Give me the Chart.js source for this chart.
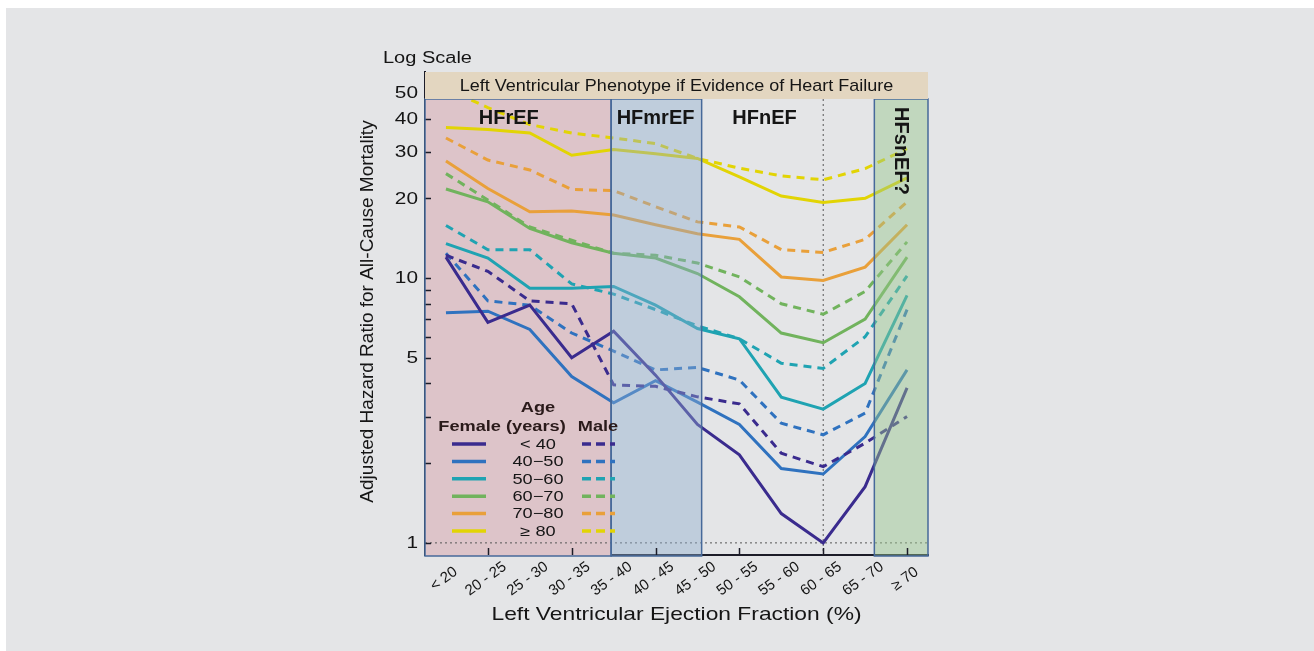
<!DOCTYPE html>
<html>
<head>
<meta charset="utf-8">
<title>Adjusted hazard ratio by LVEF</title>
<script src="https://cdn.jsdelivr.net/npm/chart.js@4.4.1/dist/chart.umd.min.js"></script>
<style>
  html, body { margin: 0; padding: 0; background: #ffffff; }
  .frame { position: absolute; left: 6px; top: 8px; width: 1308px; height: 643px; background: #e4e5e7; }
  .wrap { position: absolute; left: 0; top: 0; width: 1314px; height: 651px; }
</style>
</head>
<body>
<div class="frame"></div>
<div class="wrap"><canvas id="hr-chart" width="1314" height="651"></canvas></div>
<script>
// LVEF bands on the x axis
const efBands = ['< 20', '20 - 25', '25 - 30', '30 - 35', '35 - 40', '40 - 45',
  '45 - 50', '50 - 55', '55 - 60', '60 - 65', '65 - 70', '≥ 70'];

// age groups (legend rows)
const ageGroups = ['< 40', '40\u221250', '50\u221260', '60\u221270', '70\u221280', '≥ 80'];
const ageColors = ['#3a2b8e', '#2f72bf', '#1fa3b2', '#71b35d', '#e9a03a', '#e2d404'];

// adjusted hazard ratios, female (solid)
const femaleUnder40 = [12.0, 6.8, 7.9, 5.0, 6.3, 4.3, 2.8, 2.15, 1.29, 1.0, 1.63, 3.85];
const female40to50 = [7.4, 7.5, 6.4, 4.25, 3.38, 4.1, 3.4, 2.8, 1.91, 1.82, 2.52, 4.5];
const female50to60 = [13.5, 11.9, 9.15, 9.15, 9.3, 7.9, 6.45, 5.9, 3.55, 3.2, 4.0, 8.6];
const female60to70 = [21.7, 19.4, 15.4, 13.6, 12.4, 11.9, 10.4, 8.5, 6.2, 5.7, 7.0, 12.0];
const female70to80 = [27.7, 21.8, 17.8, 17.9, 17.3, 15.9, 14.7, 14.0, 10.1, 9.8, 11.0, 15.9];
const femaleOver80 = [37.0, 36.4, 35.3, 29.1, 30.6, 29.5, 28.3, 24.1, 20.4, 19.3, 20.0, 23.9];

// adjusted hazard ratios, male (dashed)
const maleUnder40 = [12.2, 10.6, 8.2, 8.0, 3.95, 3.9, 3.56, 3.35, 2.18, 1.94, 2.38, 3.0];
const male40to50 = [12.4, 8.2, 7.9, 6.2, 5.3, 4.5, 4.6, 4.12, 2.83, 2.56, 3.09, 7.6];
const male50to60 = [15.8, 12.8, 12.8, 9.5, 8.7, 7.6, 6.6, 5.9, 4.77, 4.56, 6.0, 10.2];
const male60to70 = [24.8, 19.7, 15.6, 13.9, 12.4, 12.2, 11.4, 10.1, 8.0, 7.3, 8.9, 13.7];
const male70to80 = [33.8, 27.9, 25.6, 21.6, 21.4, 18.6, 16.3, 15.6, 12.8, 12.5, 14.0, 19.4];
const maleOver80 = [52, 44, 38, 35.3, 33.8, 32.2, 28.3, 26.0, 24.3, 23.5, 25.9, 30.8];

const femaleSeries = [femaleUnder40, female40to50, female50to60, female60to70, female70to80, femaleOver80];
const maleSeries = [maleUnder40, male40to50, male50to60, male60to70, male70to80, maleOver80];

// log axis ticks
const yTickValues = [1, 2, 3, 4, 5, 6, 7, 8, 9, 10, 20, 30, 40, 50];
const yTickLabels = ['1', '', '', '', '5', '', '', '', '', '10', '20', '30', '40', '50'];

// phenotype boxes, in category units
const phenotypes = [
  { name: 'HFrEF', from: -0.5, to: 3.94, labelAt: 1.5, fill: '#ddc4c9', overlay: false },
  { name: 'HFmrEF', from: 3.94, to: 6.1, labelAt: 5, fill: 'rgba(140,172,206,0.42)', overlay: true },
  { name: 'HFnEF', from: 6.1, to: 9, labelAt: 7.6, fill: null, overlay: false },
  { name: 'HFsnEF?', from: 10.22, to: 11.5, labelAt: 10.85, fill: 'rgba(150,198,140,0.45)', overlay: true, vertical: true }
];
const normalEfIndex = 9;

const FONT = "'Liberation Sans', Arial, sans-serif";
const INK = '#151515';
const BOX_LINE = '#46699a';
const BANNER_H = 27;
const SX = 1.3; // the plot's own lettering is drawn wide

const datasets = [];
ageGroups.forEach((age, i) => {
  datasets.push({
    label: 'Male ' + age,
    data: maleSeries[i],
    borderColor: ageColors[i],
    borderWidth: 3,
    borderDash: [8, 6],
    pointRadius: 0,
    tension: 0,
    fill: false
  });
  datasets.push({
    label: 'Female ' + age,
    data: femaleSeries[i],
    borderColor: ageColors[i],
    borderWidth: 3,
    pointRadius: 0,
    tension: 0,
    fill: false
  });
});

function xAt(scale, pos) {
  const a = scale.getPixelForValue(0);
  const b = scale.getPixelForValue(1);
  return a + (b - a) * pos;
}

// text with optional horizontal stretch and rotation
function label(ctx, text, x, y, opts) {
  ctx.save();
  ctx.translate(x, y);
  ctx.scale(opts.sx || 1, 1);
  if (opts.angle) ctx.rotate(opts.angle);
  ctx.font = opts.font;
  ctx.textAlign = opts.align || 'center';
  ctx.textBaseline = opts.baseline || 'middle';
  ctx.fillStyle = opts.color || INK;
  ctx.fillText(text, 0, 0);
  ctx.restore();
}

function fillBoxes(chart, overlay) {
  const { ctx, chartArea, scales } = chart;
  const top = chartArea.top + BANNER_H;
  ctx.save();
  phenotypes.forEach(p => {
    if (!p.fill || p.overlay !== overlay) return;
    const x1 = xAt(scales.x, p.from);
    const x2 = xAt(scales.x, p.to);
    ctx.fillStyle = p.fill;
    ctx.fillRect(x1, top, x2 - x1, chartArea.bottom + 1 - top);
  });
  ctx.restore();
}

// pink box and dotted reference lines under the data
const underlayPlugin = {
  id: 'underlay',
  beforeDatasetsDraw(chart) {
    const { ctx, chartArea, scales } = chart;
    fillBoxes(chart, false);
    ctx.save();
    ctx.strokeStyle = '#555';
    ctx.lineWidth = 1;
    ctx.setLineDash([2, 3]);
    const y1 = scales.y.getPixelForValue(1);
    ctx.beginPath();
    ctx.moveTo(chartArea.left, y1);
    ctx.lineTo(chartArea.right, y1);
    const xn = scales.x.getPixelForValue(normalEfIndex);
    ctx.moveTo(xn, chartArea.top + BANNER_H);
    ctx.lineTo(xn, chartArea.bottom);
    ctx.stroke();
    ctx.restore();
  }
};

// tinted boxes, outlines, banner, axis text, ticks, legend
const overlayPlugin = {
  id: 'overlay',
  afterDatasetsDraw(chart) {
    const { ctx, chartArea, scales } = chart;
    const top = chartArea.top + BANNER_H;
    fillBoxes(chart, true);

    ctx.save();
    // inward ticks
    ctx.strokeStyle = '#1c1c28';
    ctx.lineWidth = 1.5;
    ctx.beginPath();
    yTickValues.forEach(v => {
      const y = Math.round(scales.y.getPixelForValue(v)) + 0.5;
      ctx.moveTo(chartArea.left, y);
      ctx.lineTo(chartArea.left + 6, y);
    });
    efBands.forEach((b, i) => {
      if (i % 2 === 0) return;
      const x = Math.round(scales.x.getPixelForValue(i)) + 0.5;
      ctx.moveTo(x, chartArea.bottom);
      ctx.lineTo(x, chartArea.bottom - 7);
    });
    ctx.stroke();

    // box outlines
    ctx.strokeStyle = BOX_LINE;
    ctx.lineWidth = 1.5;
    phenotypes.forEach(p => {
      if (!p.fill) return;
      const x1 = xAt(scales.x, p.from);
      const x2 = xAt(scales.x, p.to);
      ctx.strokeRect(x1, top, x2 - x1, chartArea.bottom + 1 - top);
    });

    // banner
    ctx.fillStyle = '#e3d6c0';
    ctx.fillRect(chartArea.left, chartArea.top, chartArea.right - chartArea.left, BANNER_H);
    label(ctx, 'Left Ventricular Phenotype if Evidence of Heart Failure',
      (chartArea.left + chartArea.right) / 2, chartArea.top + BANNER_H / 2 + 1,
      { font: '17px ' + FONT, sx: 1.06 });

    // phenotype names
    phenotypes.forEach(p => {
      const x = xAt(scales.x, p.labelAt);
      if (p.vertical) {
        label(ctx, p.name, x, top + 52, { font: 'bold 20px ' + FONT, angle: Math.PI / 2 });
      } else {
        label(ctx, p.name, x, top + 19, { font: 'bold 20px ' + FONT });
      }
    });

    // y tick labels
    yTickValues.forEach((v, i) => {
      if (!yTickLabels[i]) return;
      label(ctx, yTickLabels[i], chartArea.left - 7, scales.y.getPixelForValue(v) + 1,
        { font: '16px ' + FONT, sx: SX, align: 'right' });
    });

    // x tick labels
    efBands.forEach((b, i) => {
      label(ctx, b, scales.x.getPixelForValue(i) - 2, chartArea.bottom + 24,
        { font: '15px ' + FONT, angle: -36 * Math.PI / 180 });
    });

    // axis titles
    label(ctx, 'Left Ventricular Ejection Fraction (%)', (chartArea.left + chartArea.right) / 2, 615,
      { font: '19px ' + FONT, sx: 1.2 });
    label(ctx, 'Adjusted Hazard Ratio for All-Cause Mortality', 368, (chartArea.top + chartArea.bottom) / 2 - 2,
      { font: '19px ' + FONT, angle: -Math.PI / 2 });
    label(ctx, 'Log Scale', 383, 63, { font: '16px ' + FONT, sx: 1.25, align: 'left', baseline: 'alphabetic' });

    // legend
    const lx = chartArea.left;
    const ly = 408;
    const head = { font: 'bold 14px ' + FONT, sx: SX, color: '#2a1a1a' };
    label(ctx, 'Age', lx + 113, ly, head);
    label(ctx, 'Female (years)', lx + 77, ly + 19, head);
    label(ctx, 'Male', lx + 173, ly + 19, head);
    ageGroups.forEach((age, i) => {
      const y = ly + 36 + i * 17.4;
      label(ctx, age, lx + 113, y + 1, { font: '14px ' + FONT, sx: SX });
      ctx.strokeStyle = ageColors[i];
      ctx.lineWidth = 3.5;
      ctx.setLineDash([]);
      ctx.beginPath();
      ctx.moveTo(lx + 27, y);
      ctx.lineTo(lx + 61, y);
      ctx.stroke();
      ctx.setLineDash([9, 5]);
      ctx.beginPath();
      ctx.moveTo(lx + 157, y);
      ctx.lineTo(lx + 190, y);
      ctx.stroke();
    });
    ctx.restore();
  }
};

new Chart(document.getElementById('hr-chart'), {
  type: 'line',
  data: { labels: efBands, datasets: datasets },
  options: {
    responsive: false,
    animation: false,
    events: [],
    layout: { padding: { left: 358, right: 386, top: 72, bottom: 26 } },
    plugins: {
      legend: { display: false },
      tooltip: { enabled: false }
    },
    scales: {
      x: {
        type: 'category',
        offset: true,
        grid: { display: true, drawOnChartArea: false, drawTicks: false },
        border: { display: true, color: '#1c1c28', width: 2 },
        ticks: { display: false, autoSkip: false },
        afterFit(scale) {
          scale.height = 70;
          scale.paddingLeft = 0;
          scale.paddingRight = 0;
        }
      },
      y: {
        type: 'logarithmic',
        min: 0.9,
        max: 60,
        grid: { display: true, drawOnChartArea: false, drawTicks: false },
        border: { display: true, color: '#1c1c28', width: 2 },
        afterBuildTicks(scale) {
          scale.ticks = yTickValues.map(v => ({ value: v }));
        },
        ticks: { display: false, autoSkip: false },
        afterFit(scale) {
          scale.width = 67;
          scale.paddingTop = 0;
          scale.paddingBottom = 0;
        }
      }
    }
  },
  plugins: [underlayPlugin, overlayPlugin]
});
</script>
</body>
</html>
